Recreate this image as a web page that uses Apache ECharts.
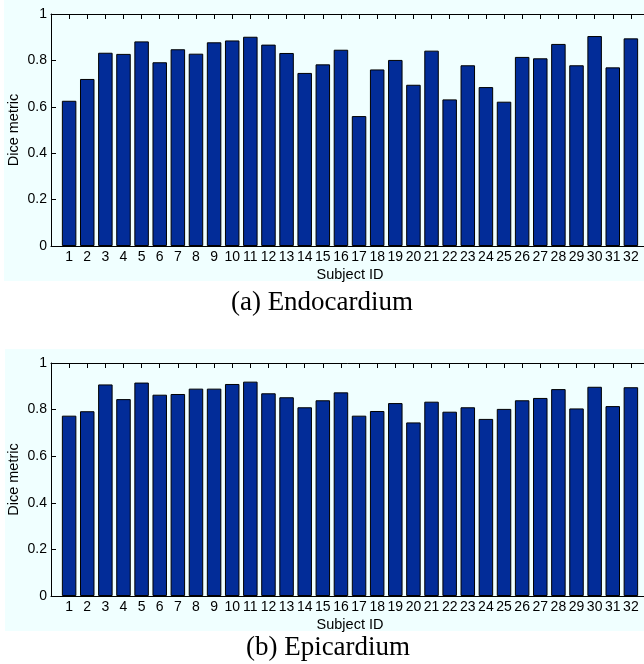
<!DOCTYPE html>
<html>
<head>
<meta charset="utf-8">
<script src="https://cdn.jsdelivr.net/npm/echarts@6/dist/echarts.min.js"></script>
<style>
html,body{margin:0;padding:0;background:#fff;}
#chart{width:644px;height:664px;}
</style>
</head>
<body>
<div id="chart"></div>
<script>
const subjects = [1,2,3,4,5,6,7,8,9,10,11,12,13,14,15,16,17,18,19,20,21,22,23,24,25,26,27,28,29,30,31,32];
const endoDice = [0.626,0.720,0.833,0.828,0.882,0.792,0.848,0.829,0.878,0.886,0.902,0.868,0.832,0.746,0.783,0.846,
                  0.560,0.761,0.802,0.695,0.842,0.632,0.779,0.685,0.622,0.815,0.809,0.871,0.779,0.905,0.770,0.895];
const epiDice = [0.774,0.793,0.908,0.845,0.916,0.864,0.867,0.890,0.890,0.910,0.920,0.870,0.853,0.810,0.840,0.874,
                 0.774,0.794,0.828,0.745,0.834,0.791,0.810,0.760,0.803,0.840,0.850,0.888,0.805,0.898,0.815,0.896];
const yLabel = 'Dice metric';
const xLabel = 'Subject ID';
const captions = ['(a) Endocardium', '(b) Epicardium'];

const FONT = 'Liberation Sans, Arial, Helvetica, sans-serif';
const BG = '#f0ffff';
const BAR = '#022c98';

const chart = echarts.init(document.getElementById('chart'), null, {renderer:'canvas'});

const grids = [
  {left:51, top:14, width:598, height:232, containLabel:false, outerBoundsMode:'none'},
  {left:51, top:363, width:598, height:233, containLabel:false, outerBoundsMode:'none'}
];

function xMain(gi){
  return {
    type:'value', gridIndex:gi, position:'bottom', min:0, max:33, interval:1,
    name:xLabel, nameLocation:'middle', nameGap:21, nameMoveOverlap:false,
    nameTextStyle:{fontFamily:FONT, fontSize:14.5, color:'#000'},
    axisLine:{onZero:false, lineStyle:{color:'#000', width:1}},
    axisTick:{inside:true, length:5, lineStyle:{color:'#000'}},
    axisLabel:{fontFamily:FONT, fontSize:14, color:'#000', margin:4,
      formatter:v => (v>=1 && v<=32) ? String(v) : ''},
    splitLine:{show:false}
  };
}
function xTop(gi){
  return {
    type:'value', gridIndex:gi, position:'top', min:0, max:33, interval:1,
    axisLine:{onZero:false, lineStyle:{color:'#000', width:1}},
    axisTick:{inside:true, length:5, lineStyle:{color:'#000'}},
    axisLabel:{show:false}, splitLine:{show:false}
  };
}
function yMain(gi){
  return {
    type:'value', gridIndex:gi, position:'left', min:0, max:1, interval:0.2,
    name:yLabel, nameLocation:'middle', nameGap:30, nameRotate:90, nameMoveOverlap:false,
    nameTextStyle:{fontFamily:FONT, fontSize:14.5, color:'#000'},
    axisLine:{show:true, onZero:false, lineStyle:{color:'#000', width:1}},
    axisTick:{show:true, inside:true, length:5, lineStyle:{color:'#000'}},
    axisLabel:{fontFamily:FONT, fontSize:14, color:'#000', margin:4,
      formatter:v => (v===0 ? '0' : (Math.abs(v-1)<1e-9 ? '1' : v.toFixed(1)))},
    splitLine:{show:false}
  };
}
function yRight(gi){
  return {
    type:'value', gridIndex:gi, position:'right', min:0, max:1, interval:0.2,
    axisLine:{show:true, onZero:false, lineStyle:{color:'#000', width:1}},
    axisTick:{show:true, inside:true, length:5, lineStyle:{color:'#000'}},
    axisLabel:{show:false}, splitLine:{show:false}
  };
}

function barSeries(vals, xi, yi){
  return {
    type:'bar', xAxisIndex:xi, yAxisIndex:yi,
    data: subjects.map((s,i)=>[s, vals[i]]),
    barWidth:14.5,
    itemStyle:{color:BAR, borderColor:'#000', borderWidth:1},
    emphasis:{disabled:true},
    silent:true
  };
}

const option = {
  animation:false,
  backgroundColor:'#fff',
  grid: grids,
  xAxis:[xMain(0), xTop(0), xMain(1), xTop(1)],
  yAxis:[yMain(0), yRight(0), yMain(1), yRight(1)],
  series:[barSeries(endoDice,0,0), barSeries(epiDice,2,2)],
  graphic:[
    {type:'rect', z:-10, shape:{x:4, y:0, width:660, height:281}, style:{fill:BG}},
    {type:'rect', z:-10, shape:{x:5, y:349, width:660, height:282}, style:{fill:BG}},
    {type:'text', z:10, x:322, y:303, style:{text:captions[0], fill:'#000',
      font:'27px "Liberation Serif", "Times New Roman", serif', align:'center', verticalAlign:'middle'}},
    {type:'text', z:10, x:328, y:648, style:{text:captions[1], fill:'#000',
      font:'27px "Liberation Serif", "Times New Roman", serif', align:'center', verticalAlign:'middle'}}
  ]
};
chart.setOption(option);
</script>
</body>
</html>
